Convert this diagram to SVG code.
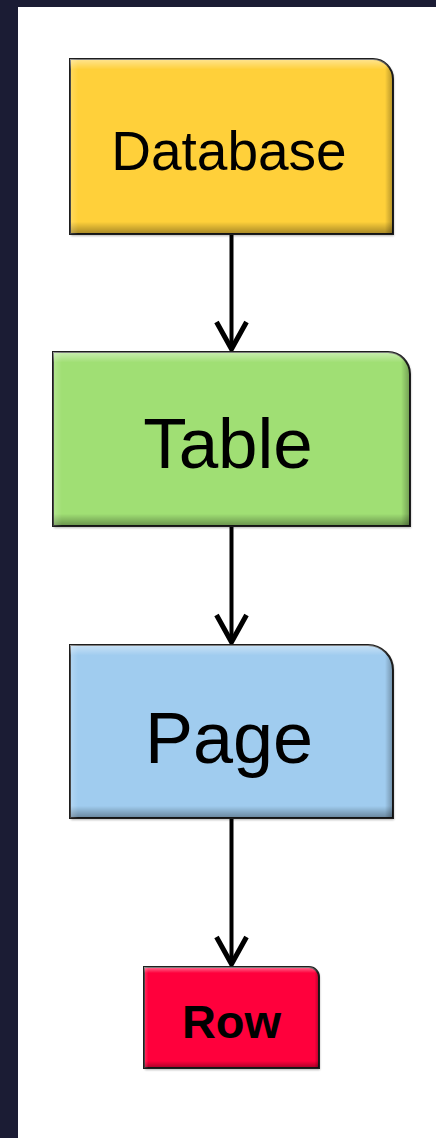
<svg xmlns="http://www.w3.org/2000/svg" width="436" height="1138" viewBox="0 0 436 1138">
  <defs>
    <style>
      .box { stroke: #1e1e1e; stroke-width: 2; }
      .shadow { fill: #000; opacity: 0.28; }
      .label { font-family: "Liberation Sans", Arial, sans-serif; fill: #000; text-anchor: middle; }
      .edge { fill: none; stroke: #000; stroke-width: 4; }
    </style>
    <linearGradient id="bevelV" x1="0" y1="0" x2="0" y2="1">
      <stop offset="0" stop-color="#fff" stop-opacity="0.45"/>
      <stop offset="0.06" stop-color="#fff" stop-opacity="0"/>
      <stop offset="0.93" stop-color="#000" stop-opacity="0"/>
      <stop offset="1" stop-color="#000" stop-opacity="0.35"/>
    </linearGradient>
    <linearGradient id="bevelH" x1="0" y1="0" x2="1" y2="0">
      <stop offset="0" stop-color="#fff" stop-opacity="0.2"/>
      <stop offset="0.025" stop-color="#fff" stop-opacity="0"/>
      <stop offset="0.975" stop-color="#000" stop-opacity="0"/>
      <stop offset="1" stop-color="#000" stop-opacity="0.3"/>
    </linearGradient>
    <filter id="soft" x="-10%" y="-10%" width="120%" height="120%">
      <feGaussianBlur stdDeviation="1.2"/>
    </filter>
    <marker id="arrow" markerUnits="userSpaceOnUse" markerWidth="40" markerHeight="40" viewBox="-32 -20 40 40" refX="0" refY="0" orient="auto">
      <path d="M-27,-15 L0,0 L-27,15" fill="none" stroke="#000" stroke-width="5" stroke-linejoin="miter"/>
    </marker>
  </defs>

  <!-- frame and page -->
  <rect x="0" y="0" width="436" height="1138" fill="#1b1c34"/>
  <rect x="18" y="7" width="418" height="1131" fill="#ffffff"/>

  <!-- connectors -->
  <g id="connectors">
    <line class="edge" x1="231.5" y1="234" x2="231.5" y2="349" marker-end="url(#arrow)"/>
    <line class="edge" x1="231.5" y1="526" x2="231.5" y2="642" marker-end="url(#arrow)"/>
    <line class="edge" x1="231.5" y1="818" x2="231.5" y2="964" marker-end="url(#arrow)"/>
  </g>

  <!-- Database -->
  <g id="node-database">
    <path class="shadow" filter="url(#soft)" d="M71,60 H374 A20,20 0 0 1 394,80 V236 H71 Z"/>
    <path class="box" fill="#ffd03a" d="M70,59 H373 A20,20 0 0 1 393,79 V234 H70 Z"/>
    <path fill="url(#bevelV)" d="M70,59 H373 A20,20 0 0 1 393,79 V234 H70 Z"/>
    <path fill="url(#bevelH)" d="M70,59 H373 A20,20 0 0 1 393,79 V234 H70 Z"/>
    <text class="label" x="229" y="170" font-size="55">Database</text>
  </g>

  <!-- Table -->
  <g id="node-table">
    <path class="shadow" filter="url(#soft)" d="M54,353 H389 A22,22 0 0 1 411,375 V528 H54 Z"/>
    <path class="box" fill="#a0df74" d="M53,352 H388 A22,22 0 0 1 410,374 V526 H53 Z"/>
    <path fill="url(#bevelV)" d="M53,352 H388 A22,22 0 0 1 410,374 V526 H53 Z"/>
    <path fill="url(#bevelH)" d="M53,352 H388 A22,22 0 0 1 410,374 V526 H53 Z"/>
    <text class="label" x="228" y="468" font-size="71">Table</text>
  </g>

  <!-- Page -->
  <g id="node-page">
    <path class="shadow" filter="url(#soft)" d="M71,646 H369 A25,25 0 0 1 394,671 V820 H71 Z"/>
    <path class="box" fill="#a0ccef" d="M70,645 H368 A25,25 0 0 1 393,670 V818 H70 Z"/>
    <path fill="url(#bevelV)" d="M70,645 H368 A25,25 0 0 1 393,670 V818 H70 Z"/>
    <path fill="url(#bevelH)" d="M70,645 H368 A25,25 0 0 1 393,670 V818 H70 Z"/>
    <text class="label" x="229" y="763" font-size="72">Page</text>
  </g>

  <!-- Row -->
  <g id="node-row">
    <path class="shadow" filter="url(#soft)" d="M145,968 H310 A10,10 0 0 1 320,978 V1070 H145 Z"/>
    <path class="box" fill="#ff003c" d="M144,967 H309 A10,10 0 0 1 319,977 V1068 H144 Z"/>
    <path fill="url(#bevelV)" d="M144,967 H309 A10,10 0 0 1 319,977 V1068 H144 Z"/>
    <path fill="url(#bevelH)" d="M144,967 H309 A10,10 0 0 1 319,977 V1068 H144 Z"/>
    <text class="label" x="231.5" y="1038" font-size="47" font-weight="bold">Row</text>
  </g>
</svg>
